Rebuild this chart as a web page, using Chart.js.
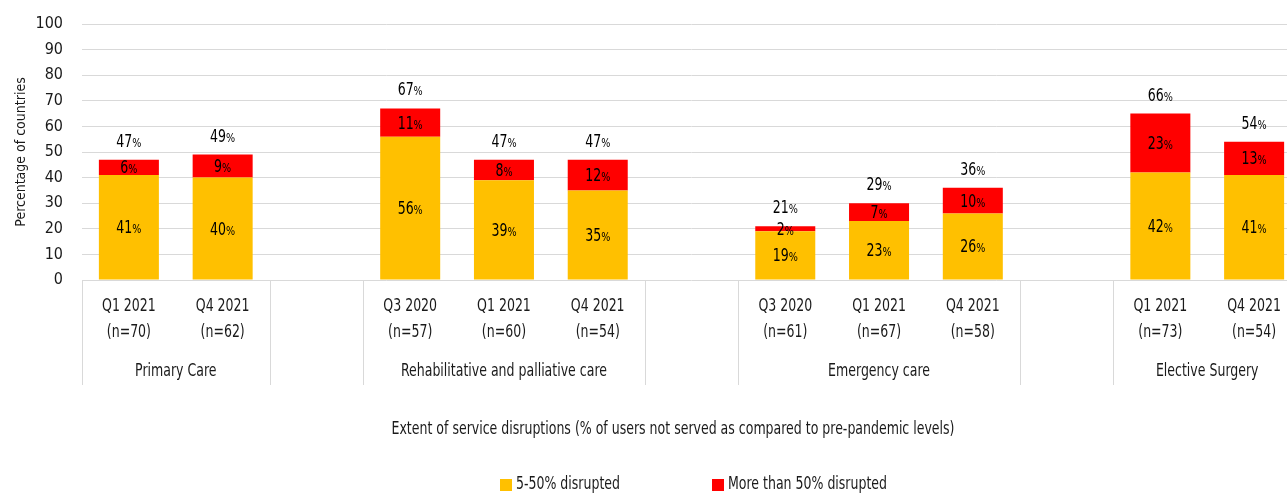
<!DOCTYPE html>
<html>
  <head>
    <meta charset="utf-8" />
    <title>Service disruptions</title>
    <style>
      html, body { margin: 0; padding: 0; background: #fff; overflow: hidden; }
      #wrap { width: 1310px; height: 493px; position: relative; }
    </style>
  </head>
  <body>
    <div id="wrap">
      <canvas id="chart"></canvas>
    </div>

    <script src="https://cdn.jsdelivr.net/npm/chart.js"></script>
    <script>
      // 類別（空字串 = 群組之間的空位）
      var categories = [
        ["Q1 2021", "(n=70)"], ["Q4 2021", "(n=62)"], "",
        ["Q3 2020", "(n=57)"], ["Q1 2021", "(n=60)"], ["Q4 2021", "(n=54)"], "",
        ["Q3 2020", "(n=61)"], ["Q1 2021", "(n=67)"], ["Q4 2021", "(n=58)"], "",
        ["Q1 2021", "(n=73)"], ["Q4 2021", "(n=54)"]
      ];
      // 群組名稱與範圍（類別索引）
      var groupNames = ["Primary Care", "Rehabilitative and palliative care", "Emergency care", "Elective Surgery"];
      var groupFrom = [0, 3, 7, 11];
      var groupTo = [1, 5, 9, 12];

      // 資料
      var moderate = [41, 40, null, 56, 39, 35, null, 19, 23, 26, null, 42, 41];
      var severe = [6, 9, null, 11, 8, 12, null, 2, 7, 10, null, 23, 13];
      var totals = [47, 49, null, 67, 47, 47, null, 21, 29, 36, null, 66, 54];

      var seriesNames = ["5-50% disrupted", "More than 50% disrupted"];
      var seriesColors = ["#FFC000", "#FF0000"];

      var axisTitle = "Extent of service disruptions (% of users not served as compared to pre-pandemic levels)";
      var FONT = "'DejaVu Sans Condensed', 'Liberation Sans Narrow', sans-serif";
      var TEXT = "#1a1a1a";
      var LINE = "#d9d9d9";
      var SQUEEZE = 0.82; // 字體壓窄一點，接近原圖

      function txt(ctx, s, x, y, size, align) {
        ctx.save();
        ctx.font = size + "px " + FONT;
        ctx.textAlign = align || "center";
        ctx.textBaseline = "middle";
        ctx.translate(x, y);
        ctx.scale(SQUEEZE, 1);
        ctx.fillText(s, 0, 0);
        ctx.restore();
      }

      // 數字 + 小一點的 % 號
      function drawPct(ctx, value, x, y) {
        var num = String(value);
        ctx.save();
        ctx.font = "17px " + FONT;
        var w1 = ctx.measureText(num).width;
        ctx.font = "13px " + FONT;
        var w2 = ctx.measureText("%").width;
        ctx.translate(x, y + 6);
        ctx.scale(SQUEEZE, 1);
        var left = -(w1 + w2) / 2;
        ctx.textAlign = "left";
        ctx.textBaseline = "alphabetic";
        ctx.font = "17px " + FONT;
        ctx.fillText(num, left, 0);
        ctx.font = "13px " + FONT;
        ctx.fillText("%", left + w1, 0);
        ctx.restore();
      }

      var extras = {
        id: "extras",
        afterDatasetsDraw: function (chart) {
          var ctx = chart.ctx;
          var yScale = chart.scales.y;
          ctx.save();
          ctx.fillStyle = "#000";
          chart.data.datasets.forEach(function (ds, di) {
            var meta = chart.getDatasetMeta(di);
            meta.data.forEach(function (bar, i) {
              if (ds.data[i] == null) return;
              drawPct(ctx, ds.data[i], bar.x, (bar.y + bar.base) / 2);
            });
          });
          // 總和標籤
          var meta0 = chart.getDatasetMeta(0);
          totals.forEach(function (t, i) {
            if (t == null) return;
            var top = yScale.getPixelForValue((moderate[i] || 0) + (severe[i] || 0));
            drawPct(ctx, t, meta0.data[i].x, top - 19);
          });
          ctx.restore();
        },
        afterDraw: function (chart) {
          var ctx = chart.ctx;
          var xScale = chart.scales.x;
          var area = chart.chartArea;
          var half = (xScale.getPixelForValue(1) - xScale.getPixelForValue(0)) / 2;
          ctx.save();
          // 分隔線
          ctx.strokeStyle = LINE;
          ctx.lineWidth = 1;
          var edges = [];
          groupFrom.forEach(function (f, g) {
            edges.push(xScale.getPixelForValue(f) - half);
            edges.push(xScale.getPixelForValue(groupTo[g]) + half);
          });
          edges.forEach(function (ex) {
            var px = Math.round(ex) + 0.5;
            ctx.beginPath();
            ctx.moveTo(px, area.bottom);
            ctx.lineTo(px, area.bottom + 105);
            ctx.stroke();
          });
          ctx.fillStyle = TEXT;
          // 類別標籤（兩行）
          categories.forEach(function (lab, i) {
            if (!Array.isArray(lab)) return;
            var cx = xScale.getPixelForValue(i);
            txt(ctx, lab[0], cx, area.bottom + 27, 17);
            txt(ctx, lab[1], cx, area.bottom + 53, 17);
          });
          // 群組名稱
          groupNames.forEach(function (name, g) {
            var cx = (xScale.getPixelForValue(groupFrom[g]) + xScale.getPixelForValue(groupTo[g])) / 2;
            txt(ctx, name, cx, area.bottom + 92, 17);
          });
          // 軸標題
          txt(ctx, axisTitle, 673, 430, 17);
          // 圖例
          var lx = [500, 712];
          seriesNames.forEach(function (name, s) {
            ctx.fillStyle = seriesColors[s];
            ctx.fillRect(lx[s], 479, 12, 12);
            ctx.fillStyle = TEXT;
            txt(ctx, name, lx[s] + 16, 485, 17, "left");
          });
          ctx.restore();
        }
      };

      var ctx = document.getElementById("chart").getContext("2d");
      var chart = new Chart(ctx, {
        type: "bar",
        data: {
          labels: categories,
          datasets: [
            { label: seriesNames[0], data: moderate, backgroundColor: seriesColors[0] },
            { label: seriesNames[1], data: severe, backgroundColor: seriesColors[1] }
          ]
        },
        options: {
          responsive: true,
          maintainAspectRatio: false,
          animation: false,
          layout: { padding: { top: 24, right: 9, left: 0, bottom: 0 } },
          datasets: { bar: { categoryPercentage: 1, barPercentage: 0.64 } },
          plugins: { legend: { display: false }, tooltip: { enabled: false } },
          scales: {
            x: {
              stacked: true,
              grid: { display: false },
              border: { display: false },
              ticks: { display: false },
              afterFit: function (scale) { scale.height = 213; }
            },
            y: {
              stacked: true,
              min: 0,
              max: 100,
              grid: { color: LINE, lineWidth: 1, drawTicks: false },
              border: { display: false },
              ticks: {
                stepSize: 10,
                color: TEXT,
                padding: 19,
                font: { family: FONT, size: 16 }
              },
              title: {
                display: true,
                text: "Percentage of countries",
                color: TEXT,
                padding: { top: 13, bottom: 0 },
                font: { family: FONT, size: 14 }
              },
              afterFit: function (scale) {
                scale.width = 82;
                scale.paddingTop = 0;
                scale.paddingBottom = 0;
              }
            }
          }
        },
        plugins: [extras]
      });
    </script>
  </body>
</html>
